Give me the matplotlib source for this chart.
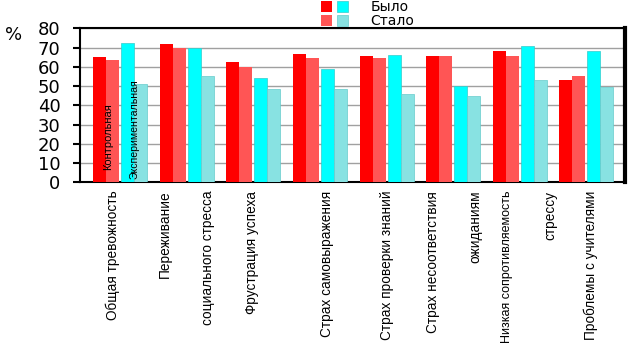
import numpy as np
import matplotlib
matplotlib.use('Agg')
import matplotlib.pyplot as plt
from matplotlib.legend_handler import HandlerTuple

# data
groups = ['Общая тревожность', 'Переживание социального стресса', 'Фрустрация успеха',
          'Страх самовыражения', 'Страх проверки знаний', 'Страх несоответствия ожиданиям',
          'Низкая сопротивляемость стрессу', 'Проблемы с учителями']
ctrl_before = [65, 72, 62.5, 66.5, 65.5, 65.5, 68, 53]
ctrl_after = [63.5, 70, 60, 64.5, 64.5, 65.5, 65.5, 55]
exp_before = [72.5, 70, 54, 59, 66, 50, 71, 68]
exp_after = [51, 55, 48.5, 48.5, 46, 45, 53, 49.5]
yticks = [0, 10, 20, 30, 40, 50, 60, 70, 80]

# x labels as they sit under the bars (some names split in two lines)
xlabels = ['Общая тревожность', 'Переживание', 'социального стресса', 'Фрустрация успеха',
           'Страх самовыражения', 'Страх проверки знаний', 'Страх несоответствия',
           'ожиданиям', 'Низкая сопротивляемость', 'стрессу', 'Проблемы с учителями']
xlabel_pos = [-0.11, 0.67, 1.32, 1.98, 3.10, 4.01, 4.70, 5.33, 5.81, 6.46, 7.06]

LAB = 'Liberation Sans'

fig = plt.figure(figsize=(6.28, 3.55), dpi=100)
ax = fig.add_axes([80/628, 1-182.3/355, 545/628, 154/355])

x = np.arange(len(groups))
w = 0.195
b1 = ax.bar(x - 0.308, ctrl_before, w, color='#ff0000', zorder=3)
b2 = ax.bar(x - 0.113, ctrl_after, w, color='#ff5555', zorder=3)
b3 = ax.bar(x + 0.113, exp_before, w, color='#00ffff', edgecolor='#33cccc', linewidth=0.5, zorder=3)
b4 = ax.bar(x + 0.308, exp_after, w, color='#88e2e2', edgecolor='#66cccc', linewidth=0.5, zorder=3)

ax.set_xlim(-0.605, 7.58)
ax.set_ylim(0, 80)
ax.set_yticks(yticks)
ax.set_yticklabels([str(v) for v in yticks], fontsize=13, family='DejaVu Sans')
ax.yaxis.grid(True, color='#a0a0a0', linewidth=1, zorder=0)
ax.set_axisbelow(True)
ax.tick_params(axis='y', direction='out', length=5, width=1.5, pad=9)

ax.set_xticks(xlabel_pos)
ax.set_xticklabels(xlabels, rotation=90, fontsize=9.8, family=LAB, va='top', ha='center')
ax.tick_params(axis='x', length=0, pad=6)
# the longest label would run off the bottom edge
ax.get_xticklabels()[8].set_fontsize(9.0)

for s in ['left', 'bottom', 'top']:
    ax.spines[s].set_linewidth(1.5)
ax.spines['right'].set_linewidth(3)

ax.text(-0.185, 6.4, 'Контрольная', rotation=90, ha='center', va='bottom',
        fontsize=8, family=LAB, zorder=4)
ax.text(0.22, 1.7, 'Экспериментальная', rotation=90, ha='center', va='bottom',
        fontsize=7.6, family=LAB, zorder=4)

fig.text(14/628, 1-35/355, '%', fontsize=13, ha='center', va='center', family='DejaVu Sans')

fig.legend([(b1, b3), (b2, b4)], ['Было', 'Стало'],
           handler_map={tuple: HandlerTuple(ndivide=None, pad=0.4)},
           loc='upper left', bbox_to_anchor=(308/628, 1.035), frameon=False,
           handlelength=2.0, handleheight=0.8, labelspacing=0.0,
           handletextpad=1.6, prop={'family': 'DejaVu Sans', 'size': 10})

fig.savefig('out.png', dpi=100)
